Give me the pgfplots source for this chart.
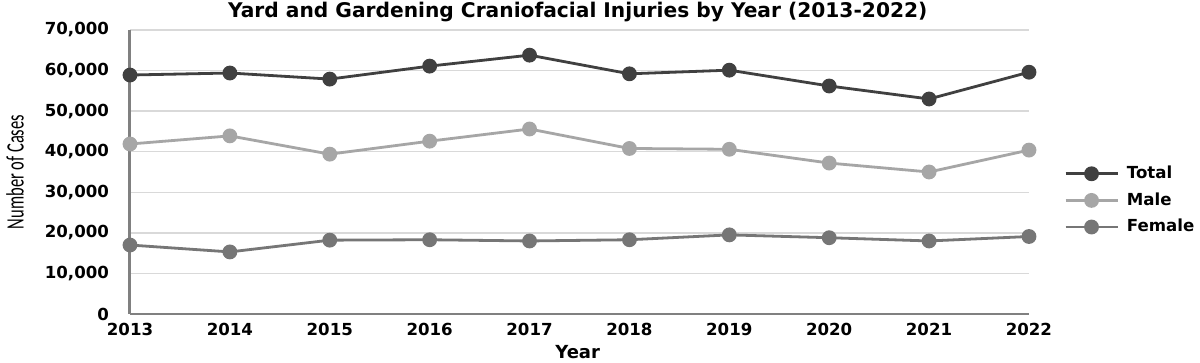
\documentclass[border=0pt]{standalone}
\usepackage{pgfplots}
\pgfplotsset{compat=1.18}
\usepackage{fontspec}
\setmainfont{DejaVu Sans}
\newfontfamily\condfont{Carlito}
\definecolor{ctotal}{HTML}{404040}
\definecolor{cmale}{HTML}{A6A6A6}
\definecolor{cfemale}{HTML}{767676}
\definecolor{cgrid}{HTML}{D9D9D9}
\definecolor{caxis}{HTML}{808080}
\begin{document}
\begin{tikzpicture}
\fill[white] (0,0) rectangle (600pt,181.5pt);
\useasboundingbox (0,0) rectangle (600pt,181.5pt);
\begin{axis}[
  at={(65pt,24.5pt)}, anchor=south west,
  scale only axis, width=449.5pt, height=142pt,
  xmin=2013, xmax=2022, ymin=0, ymax=70000,
  xtick={2013,...,2022},
  ytick={0,10000,...,70000},
  axis x line=bottom, axis y line=left,
  x axis line style={-, caxis, line width=1.1pt},
  y axis line style={-, caxis, line width=1.5pt},
  major tick length=0pt,
  ymajorgrids, grid style={cgrid, line width=0.75pt},
  /pgf/number format/assume math mode=true,
  /pgf/number format/1000 sep={,},
  scaled y ticks=false,
  x tick label style={/pgf/number format/1000 sep=, font=\bfseries\fontsize{8.3}{10}\selectfont, yshift=-1pt},
  y tick label style={font=\bfseries\fontsize{8.3}{10}\selectfont, xshift=-7pt},
  title={Yard and Gardening Craniofacial Injuries by Year (2013-2022)},
  title style={font=\bfseries\fontsize{10.1}{12}\selectfont, at={(axis description cs:0.498,1.021)}, anchor=center},
  xlabel={Year},
  xlabel style={font=\bfseries\fontsize{9}{11}\selectfont, at={(axis description cs:0.498,-0.134)}, anchor=center},
  ylabel={\scalebox{0.66}[1]{\condfont\fontsize{12.5}{14}\selectfont Number of Cases}},
  ylabel style={at={(axis description cs:-0.128,0.5)}, anchor=center},
  legend style={draw=none, fill=none, at={(1.032,0.40)}, anchor=west,
    font=\bfseries\fontsize{8.3}{10}\selectfont, row sep=1.5pt,
    nodes={inner xsep=4pt}},
  legend cell align=left,
  legend image code/.code={\draw[mark repeat=2,mark phase=2] plot coordinates {(0pt,0pt) (13pt,0pt) (26pt,0pt)};},
  every axis plot/.append style={line width=1.4pt, mark=*, mark size=3pt},
  clip=false,
]
\addplot[ctotal, mark options={fill=ctotal}] coordinates {
  (2013,58900) (2014,59400) (2015,57900) (2016,61100) (2017,63800)
  (2018,59200) (2019,60100) (2020,56200) (2021,53000) (2022,59600)};
\addlegendentry{Total}
\addplot[cmale, mark options={fill=cmale}] coordinates {
  (2013,41900) (2014,43900) (2015,39400) (2016,42600) (2017,45600)
  (2018,40800) (2019,40600) (2020,37200) (2021,35000) (2022,40400)};
\addlegendentry{Male}
\addplot[cfemale, mark options={fill=cfemale}] coordinates {
  (2013,17000) (2014,15300) (2015,18200) (2016,18300) (2017,18000)
  (2018,18300) (2019,19500) (2020,18800) (2021,18000) (2022,19100)};
\addlegendentry{Female}
\end{axis}
\end{tikzpicture}
\end{document}
